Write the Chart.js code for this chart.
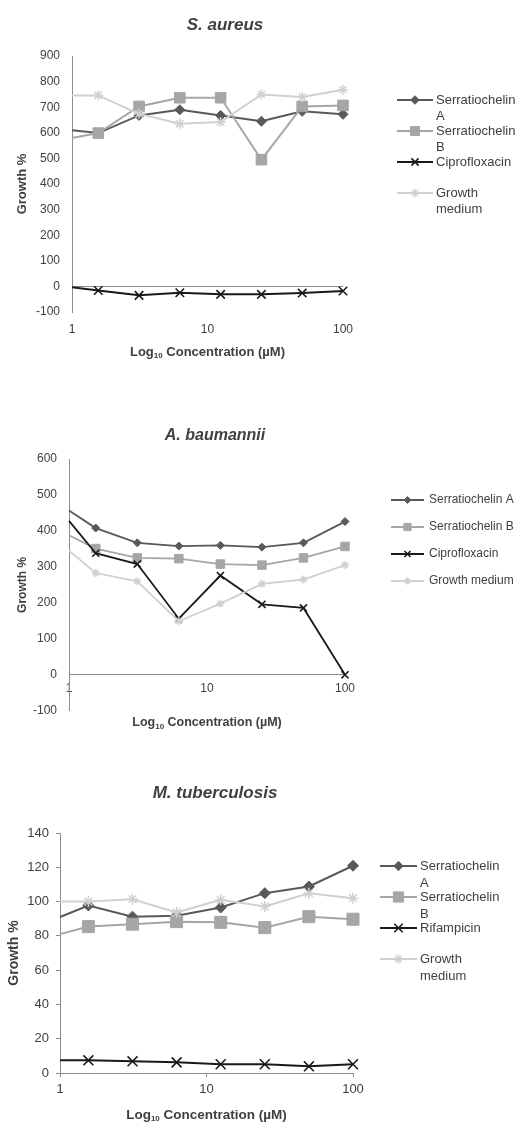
<!DOCTYPE html>
<html>
<head>
<meta charset="utf-8">
<script src="https://cdn.jsdelivr.net/npm/chart.js@4.4.1/dist/chart.umd.min.js"></script>
<style>
  html, body { margin: 0; padding: 0; background: #fff; }
  body { width: 520px; height: 1122px; position: relative; overflow: hidden; }
  .box { position: absolute; left: 0; width: 520px; }
  .box canvas { display: block; }
</style>
</head>
<body>
<div class="box" style="top:0;height:365px"><canvas id="chartSA"></canvas></div>
<div class="box" style="top:365px;height:365px"><canvas id="chartAB"></canvas></div>
<div class="box" style="top:730px;height:392px"><canvas id="chartMT"></canvas></div>
<script>
// concentrations (µM), shared by all three panels
const concentrations = [1, 1.5625, 3.125, 6.25, 12.5, 25, 50, 100];
const xTicks = [1, 10, 100];
const xTitle = ['Log', '10', ' Concentration (µM)'];
const yTitle = 'Growth %';

// S. aureus
const saTitle = 'S. aureus';
const saNames = ['Serratiochelin A', 'Serratiochelin B', 'Ciprofloxacin', 'Growth medium'];
const saSerA = [610, 599, 668, 690, 668, 645, 684, 672];
const saSerB = [580, 599, 703, 737, 737, 495, 703, 707];
const saCipro = [-3, -16, -35, -25, -31, -31, -26, -18];
const saMedium = [746, 746, 674, 635, 642, 750, 740, 768];
const saYTicks = [-100, 0, 100, 200, 300, 400, 500, 600, 700, 800, 900];

// A. baumannii
const abTitle = 'A. baumannii';
const abNames = ['Serratiochelin A', 'Serratiochelin B', 'Ciprofloxacin', 'Growth medium'];
const abSerA = [457, 408, 367, 358, 360, 355, 367, 426];
const abSerB = [388, 351, 325, 323, 308, 305, 325, 357];
const abCipro = [428, 338, 308, 156, 276, 196, 186, 0];
const abMedium = [345, 283, 260, 149, 198, 253, 265, 305];
const abYTicks = [-100, 0, 100, 200, 300, 400, 500, 600];

// M. tuberculosis
const mtTitle = 'M. tuberculosis';
const mtNames = ['Serratiochelin A', 'Serratiochelin B', 'Rifampicin', 'Growth medium'];
const mtSerA = [91, 97.7, 91.2, 91.8, 96.5, 104.9, 108.8, 120.9];
const mtSerB = [81, 85.4, 86.8, 88.3, 87.9, 84.8, 91.2, 89.7];
const mtRif = [7.4, 7.4, 6.8, 6.2, 5.1, 5.1, 3.9, 5.1];
const mtMedium = [100, 100, 101.4, 93.6, 101, 97.1, 104.9, 102];
const mtYTicks = [0, 20, 40, 60, 80, 100, 120, 140];

const FONT = "'Liberation Sans', Arial, Helvetica, sans-serif";
const TEXT = '#404040';
const AXIS = '#8c8c8c';
Chart.defaults.font.family = FONT;
Chart.defaults.color = TEXT;

const seriesLook = [
    { color: '#595959', pointStyle: 'rectRot', bw: 1 },
    { color: '#a6a6a6', pointStyle: 'rect', bw: 1 },
    { color: '#1a1a1a', pointStyle: 'crossRot', bw: 1.6 },
    { color: '#d0d0d0', pointStyle: 'star', bw: 1.5 }
];

function wrapText(ctx, text, maxW) 
{
    const words = text.split(' ');
    const lines = [];
    let cur = '';
    words.forEach(w => {
        const test = cur ? cur + ' ' + w : w;
        if (cur && ctx.measureText(test).width > maxW) 
        {
            lines.push(cur);
            cur = w;
        } 
        else cur = test;
    });
    if (cur) lines.push(cur);
    return lines;
}

// chart title, x-axis title with subscript, and side legend
const decor = {
    id: 'decor',
    afterDraw(chart, args, o) {
        const ctx = chart.ctx;
        const area = chart.chartArea;
        ctx.save();
        ctx.fillStyle = TEXT;
        ctx.textBaseline = 'middle';

        ctx.font = `italic bold ${o.titleSize}px ${FONT}`;
        ctx.textAlign = 'center';
        ctx.fillText(o.title, o.titleX, o.titleY);

        const big = `bold ${o.axisSize}px ${FONT}`;
        const small = `bold ${Math.round(o.axisSize * 0.62)}px ${FONT}`;
        const parts = [[xTitle[0], big, 0], [xTitle[1], small, o.axisSize * 0.28], [xTitle[2], big, 0]];
        let w = 0;
        parts.forEach(p => { ctx.font = p[1]; w += ctx.measureText(p[0]).width; });
        let x = (area.left + area.right) / 2 - w / 2;
        ctx.textAlign = 'left';
        parts.forEach(p => {
            ctx.font = p[1];
            ctx.fillText(p[0], x, o.axisY + p[2]);
            x += ctx.measureText(p[0]).width;
        });

        const lg = o.legend;
        chart.data.datasets.forEach((ds, i) => {
            const y = lg.y + i * lg.gap;
            ctx.strokeStyle = ds.borderColor;
            ctx.lineWidth = ds.borderWidth;
            ctx.beginPath();
            ctx.moveTo(lg.x0, y);
            ctx.lineTo(lg.x1, y);
            ctx.stroke();
            ctx.fillStyle = ds.borderColor;
            ctx.lineWidth = ds.pointBorderWidth;
            Chart.helpers.drawPoint(ctx, {
                pointStyle: ds.pointStyle,
                radius: ds.markerR * lg.markerScale,
                rotation: 0,
                borderWidth: ds.pointBorderWidth
            }, (lg.x0 + lg.x1) / 2, y);
            ctx.fillStyle = TEXT;
            ctx.font = `${lg.size}px ${FONT}`;
            ctx.textAlign = 'left';
            wrapText(ctx, ds.label, lg.maxW).forEach((line, k) => {
                ctx.fillText(line, lg.textX, y + k * lg.lineH);
            });
        });
        ctx.restore();
    }
};

function makeChart(id, c) 
{
    const datasets = c.series.map((vals, i) => {
        const look = seriesLook[i];
        return {
            label: c.names[i],
            data: concentrations.map((x, k) => ({ x: x, y: vals[k] })),
            borderColor: look.color,
            backgroundColor: look.color,
            borderWidth: c.lineW,
            pointStyle: look.pointStyle,
            pointBackgroundColor: look.color,
            pointBorderColor: look.color,
            pointBorderWidth: look.bw,
            markerR: c.radii[i],
            pointRadius: ctx => ctx.dataIndex === 0 ? 0 : c.radii[i],
            tension: 0,
            clip: false,
            order: 3 - i
        };
    });

    return new Chart(document.getElementById(id), {
        type: 'line',
        data: { datasets: datasets },
        plugins: [decor],
        options: {
            responsive: true,
            maintainAspectRatio: false,
            animation: false,
            events: [],
            layout: { padding: { left: 0, top: c.area.top, right: 520 - c.area.right, bottom: 0 } },
            plugins: {
                legend: { display: false },
                tooltip: { enabled: false },
                decor: c.decor
            },
            scales: {
                x: {
                    type: 'logarithmic',
                    position: c.xAtZero ? { y: 0 } : 'bottom',
                    min: xTicks[0],
                    max: xTicks[xTicks.length - 1],
                    afterBuildTicks: s => { s.ticks = xTicks.map(v => ({ value: v })); },
                    afterFit: s => { s.height = c.height - c.area.bottom; },
                    ticks: {
                        callback: v => String(v),
                        color: TEXT,
                        font: { size: c.tickSize },
                        padding: c.xPad,
                        maxRotation: 0,
                        autoSkip: false
                    },
                    grid: {
                        display: c.tickMarks,
                        drawOnChartArea: false,
                        drawTicks: c.tickMarks,
                        tickLength: 4,
                        tickColor: AXIS
                    },
                    border: { display: c.xBorder, color: AXIS, width: 1 }
                },
                y: {
                    type: 'linear',
                    min: c.yTicks[0],
                    max: c.yTicks[c.yTicks.length - 1],
                    afterBuildTicks: s => { s.ticks = c.yTicks.map(v => ({ value: v })); },
                    afterFit: s => { s.width = c.area.left; },
                    ticks: {
                        color: TEXT,
                        font: { size: c.tickSize },
                        padding: c.yPad
                    },
                    grid: {
                        display: true,
                        drawOnChartArea: c.zeroLine,
                        drawTicks: c.tickMarks,
                        tickLength: 4,
                        tickColor: AXIS,
                        color: ctx => (c.zeroLine && ctx.tick && ctx.tick.value === 0) ? AXIS : 'rgba(0,0,0,0)'
                    },
                    border: { display: true, color: AXIS, width: 1 },
                    title: {
                        display: true,
                        text: yTitle,
                        color: TEXT,
                        font: { size: c.yTitleSize, weight: 'bold' },
                        padding: { top: c.yTitlePad, bottom: 0 }
                    }
                }
            }
        }
    });
}

makeChart('chartSA', {
    names: saNames,
    series: [saSerA, saSerB, saCipro, saMedium],
    yTicks: saYTicks,
    height: 365,
    area: { left: 72, right: 343, top: 56, bottom: 312 },
    radii: [5, 7.5, 6, 5],
    lineW: 2,
    tickSize: 12,
    xPad: 10,
    yPad: 12,
    xAtZero: false,
    xBorder: false,
    zeroLine: true,
    tickMarks: false,
    yTitleSize: 13,
    yTitlePad: 15,
    decor: {
        title: saTitle, titleX: 225, titleY: 25, titleSize: 17,
        axisY: 352, axisSize: 13,
        legend: { x0: 397, x1: 433, textX: 436, y: 100, gap: 31, lineH: 16, size: 13, maxW: 84, markerScale: 0.85 }
    }
});

makeChart('chartAB', {
    names: abNames,
    series: [abSerA, abSerB, abCipro, abMedium],
    yTicks: abYTicks,
    height: 365,
    area: { left: 69, right: 345, top: 94, bottom: 348 },
    radii: [4, 6, 5, 4],
    lineW: 1.8,
    tickSize: 12,
    xPad: 7,
    yPad: 12,
    xAtZero: true,
    xBorder: true,
    zeroLine: false,
    tickMarks: false,
    yTitleSize: 12,
    yTitlePad: 15,
    decor: {
        title: abTitle, titleX: 215, titleY: 71, titleSize: 16,
        axisY: 358, axisSize: 12.5,
        legend: { x0: 391, x1: 424, textX: 429, y: 135, gap: 27, lineH: 15, size: 12, maxW: 200, markerScale: 0.85 }
    }
});

makeChart('chartMT', {
    names: mtNames,
    series: [mtSerA, mtSerB, mtRif, mtMedium],
    yTicks: mtYTicks,
    height: 392,
    area: { left: 60, right: 353, top: 103, bottom: 343 },
    radii: [5.5, 8.5, 7, 5.5],
    lineW: 2,
    tickSize: 13,
    xPad: 5,
    yPad: 7,
    xAtZero: false,
    xBorder: true,
    zeroLine: false,
    tickMarks: true,
    yTitleSize: 14,
    yTitlePad: 6,
    decor: {
        title: mtTitle, titleX: 215, titleY: 63, titleSize: 17,
        axisY: 385, axisSize: 13.5,
        legend: { x0: 380, x1: 417, textX: 420, y: 136, gap: 31, lineH: 17, size: 13, maxW: 84, markerScale: 0.85 }
    }
});
</script>
</body>
</html>
